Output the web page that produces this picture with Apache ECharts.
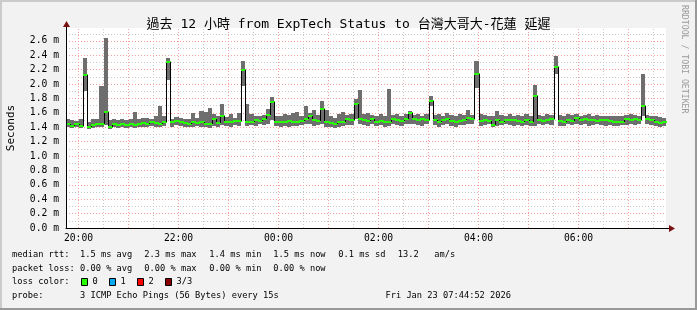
<!DOCTYPE html>
<html>
<head>
<meta charset="utf-8">
<script src="https://cdn.jsdelivr.net/npm/echarts@6/dist/echarts.min.js"></script>
<style>
html,body{margin:0;padding:0;background:#f2f2f2;}
#c{width:697px;height:310px;}
</style>
</head>
<body>
<div id="c"></div>
<script>
// ---- data (seconds, in milli-units) ----
const X_MIN = -0.25;          // hours relative to 20:00 (19:45)
const X_MAX = 11.75;          // 07:45
const STEP_H = 1 / 12;        // 5-minute RRD steps
const medianRtt = [
1.44,1.42,1.44,1.42,2.12,1.41,1.43,1.44,1.44,1.61,
1.41,1.45,1.43,1.45,1.43,1.44,1.43,1.45,1.46,1.45,
1.47,1.46,1.45,1.48,2.31,1.47,1.49,1.48,1.46,1.45,
1.47,1.46,1.48,1.45,1.44,1.52,1.46,1.55,1.47,1.48,
1.49,1.49,2.20,1.48,1.48,1.50,1.49,1.52,1.57,1.75,
1.47,1.48,1.47,1.49,1.47,1.48,1.49,1.51,1.56,1.50,
1.49,1.66,1.48,1.46,1.45,1.47,1.48,1.51,1.50,1.72,
1.52,1.50,1.49,1.51,1.48,1.49,1.48,1.48,1.51,1.50,
1.49,1.51,1.60,1.51,1.50,1.51,1.50,1.77,1.50,1.47,
1.50,1.51,1.49,1.47,1.49,1.50,1.53,1.51,2.14,1.49,
1.50,1.49,1.43,1.50,1.48,1.50,1.50,1.50,1.49,1.48,
1.50,1.48,1.83,1.50,1.49,1.50,1.51,2.24,1.49,1.48,
1.50,1.49,1.53,1.50,1.51,1.50,1.50,1.49,1.50,1.50,
1.49,1.48,1.48,1.48,1.51,1.50,1.52,1.50,1.69,1.52,
1.50,1.48,1.46,1.47
];
const minRtt = [
1.40,1.39,1.40,1.39,1.91,1.38,1.39,1.40,1.40,1.43,
1.38,1.40,1.39,1.40,1.39,1.40,1.39,1.41,1.41,1.40,
1.42,1.40,1.41,1.42,2.06,1.41,1.43,1.42,1.41,1.40,
1.41,1.42,1.41,1.40,1.39,1.42,1.41,1.43,1.42,1.41,
1.43,1.42,1.97,1.42,1.43,1.42,1.44,1.43,1.44,1.50,
1.42,1.41,1.42,1.41,1.42,1.42,1.43,1.44,1.45,1.42,
1.43,1.45,1.41,1.40,1.39,1.41,1.42,1.43,1.43,1.52,
1.44,1.43,1.42,1.44,1.42,1.43,1.41,1.42,1.44,1.43,
1.42,1.44,1.45,1.44,1.43,1.42,1.44,1.70,1.43,1.41,
1.43,1.44,1.42,1.40,1.43,1.43,1.44,1.44,1.95,1.42,
1.43,1.44,1.40,1.42,1.43,1.44,1.43,1.42,1.43,1.42,
1.43,1.42,1.42,1.44,1.43,1.44,1.43,2.14,1.42,1.42,
1.44,1.43,1.45,1.43,1.44,1.42,1.43,1.44,1.43,1.42,
1.43,1.42,1.42,1.43,1.43,1.44,1.43,1.44,1.55,1.45,
1.43,1.42,1.41,1.42
];
const maxRtt = [
1.52,1.50,1.49,1.51,2.36,1.47,1.52,1.51,1.97,2.64,
1.50,1.52,1.50,1.51,1.50,1.52,1.61,1.51,1.53,1.53,
1.51,1.56,1.69,1.55,2.36,1.52,1.54,1.53,1.52,1.51,
1.60,1.53,1.62,1.61,1.67,1.58,1.55,1.72,1.54,1.58,
1.53,1.60,2.32,1.72,1.58,1.55,1.56,1.57,1.66,1.82,
1.55,1.56,1.58,1.57,1.60,1.61,1.56,1.69,1.60,1.64,
1.57,1.77,1.64,1.55,1.53,1.58,1.61,1.57,1.59,1.80,
1.92,1.58,1.60,1.57,1.55,1.58,1.56,1.93,1.57,1.59,
1.56,1.58,1.63,1.57,1.59,1.56,1.58,1.84,1.57,1.59,
1.56,1.60,1.57,1.56,1.58,1.57,1.64,1.57,2.32,1.58,
1.57,1.56,1.56,1.63,1.57,1.56,1.58,1.55,1.57,1.56,
1.59,1.56,1.99,1.57,1.56,1.58,1.57,2.39,1.57,1.56,
1.58,1.57,1.58,1.56,1.57,1.58,1.56,1.57,1.55,1.56,
1.55,1.56,1.55,1.56,1.57,1.58,1.57,1.56,2.14,1.57,
1.56,1.55,1.54,1.53
];
const xLabelHours = [0, 2, 4, 6, 8, 10];
const yLabelValues = [0, 0.2, 0.4, 0.6, 0.8, 1.0, 1.2, 1.4, 1.6, 1.8, 2.0, 2.2, 2.4, 2.6];
const titleText = '過去 12 小時 from ExpTech Status to 台灣大哥大-花蓮 延遲';
const legendRow1 = ['median rtt:', '1.5 ms avg', '2.3 ms max', '1.4 ms min', '1.5 ms now', '0.1 ms sd', '13.2', 'am/s'];
const legendRow2 = ['packet loss:', '0.00 % avg', '0.00 % max', '0.00 % min', '0.00 % now'];
const lossLabels = ['0', '1', '2', '3/3'];
const lossColors = ['#26ff00', '#00a8f0', '#ff0000', '#8a0000'];
const probeText = ['probe:', '3 ICMP Echo Pings (56 Bytes) every 15s', 'Fri Jan 23 07:44:52 2026'];

// ---- build ----
const Y_MAX = 2.78;
const MONO = '"DejaVu Sans Mono", "Noto Sans CJK TC", monospace';
const rows = medianRtt.map((m, i) => [
  X_MIN + i * STEP_H, X_MIN + (i + 1) * STEP_H, minRtt[i], maxRtt[i], m,
  i > 0 ? medianRtt[i - 1] : m
]);

const minorX = [], majorX = [], minorY = [], majorY = [];
for (let h = -0.5; h <= X_MAX; h += 0.5) {
  if (h < X_MIN) continue;
  if (Number.isInteger(h)) majorX.push({ xAxis: h }); else minorX.push({ xAxis: h });
}
for (let k = 1; k * 0.1 < Y_MAX; k++) {
  const v = +(k * 0.1).toFixed(1);
  if (k % 2 === 0) majorY.push({ yAxis: v }); else minorY.push({ yAxis: v });
}

const chart = echarts.init(document.getElementById('c'), null, { renderer: 'canvas' });

function pad2(n) { return (n < 10 ? '0' : '') + n; }

const option = {
  animation: false,
  backgroundColor: '#f2f2f2',
  title: {
    text: titleText, left: 'center', top: 13,
    textStyle: { fontFamily: MONO, fontSize: 13, fontWeight: 'normal', color: '#000' }
  },
  grid: {
    left: 66, right: 31, top: 28, bottom: 82, show: true,
    outerBoundsMode: 'none', containLabel: false,
    backgroundColor: '#ffffff', borderWidth: 0
  },
  xAxis: {
    type: 'value', min: X_MIN, max: X_MAX, z: 6,
    axisLine: { show: true, onZero: false, lineStyle: { color: '#000', width: 1 } },
    axisTick: { show: false },
    splitLine: { show: false },
    axisLabel: {
      customValues: xLabelHours, margin: 6,
      fontFamily: MONO, fontSize: 9.7, color: '#000',
      formatter: v => pad2((20 + Math.round(v)) % 24) + ':00'
    }
  },
  yAxis: {
    type: 'value', min: 0, max: Y_MAX, z: 6,
    name: 'Seconds', nameLocation: 'middle', nameGap: 49, nameRotate: 90,
    nameTextStyle: { fontFamily: MONO, fontSize: 11, color: '#000' },
    axisLine: { show: true, onZero: false, lineStyle: { color: '#000', width: 1 } },
    axisTick: { show: false },
    splitLine: { show: false },
    axisLabel: {
      customValues: yLabelValues, margin: 7,
      fontFamily: MONO, fontSize: 9.7, color: '#000',
      formatter: v => v.toFixed(1) + ' m'
    }
  },
  series: [
    {
      type: 'line', data: [], z: 1, silent: true,
      markLine: {
        z: 1, zlevel: 0,
        silent: true, symbol: 'none', label: { show: false },
        lineStyle: { color: '#c8c8c8', width: 1, type: [1, 2] },
        emphasis: { disabled: true },
        data: minorX.concat(minorY)
      }
    },
    {
      type: 'line', data: [], z: 1, silent: true,
      markLine: {
        z: 1, zlevel: 0,
        silent: true, symbol: 'none', label: { show: false },
        lineStyle: { color: '#f4a0a0', width: 1, type: [1, 2] },
        emphasis: { disabled: true },
        data: majorX.concat(majorY)
      }
    },
    {
      type: 'custom', z: 3, silent: true,
      encode: { x: [0, 1], y: [2, 3] },
      data: rows,
      renderItem: (params, api) => {
        const a = api.coord([api.value(0), api.value(3)]);
        const b = api.coord([api.value(1), api.value(2)]);
        const x0 = Math.round(a[0]), x1 = Math.round(b[0]);
        const y0 = Math.round(a[1]), y1 = Math.round(b[1]);
        return { type: 'rect', shape: { x: x0, y: y0, width: x1 - x0, height: Math.max(1, y1 - y0) },
                 style: { fill: '#6e6e6e' } };
      }
    },
    {
      type: 'custom', z: 4, silent: true,
      encode: { x: [0, 1], y: [4, 5] },
      data: rows,
      renderItem: (params, api) => {
        const a = api.coord([api.value(0), api.value(4)]);
        const b = api.coord([api.value(1), api.value(4)]);
        const p = api.coord([api.value(0), api.value(5)]);
        const x0 = Math.round(a[0]), x1 = Math.round(b[0]);
        const ym = Math.round(a[1]), yp = Math.round(p[1]);
        return {
          type: 'group',
          children: [
            { type: 'line', shape: { x1: x0 + 0.5, y1: yp, x2: x0 + 0.5, y2: ym },
              style: { stroke: '#000', lineWidth: 1 } },
            { type: 'rect', shape: { x: x0, y: ym - 1, width: x1 - x0 + 1, height: 2 },
              style: { fill: '#26ff00' } }
          ]
        };
      }
    }
  ]
};
chart.setOption(option);

// ---- decorations (arrows, legend, frame) ----
const o = chart.convertToPixel({ gridIndex: 0 }, [X_MAX, 0]);
const t = chart.convertToPixel({ gridIndex: 0 }, [X_MIN, Y_MAX]);
const ax = Math.round(o[0]), ay = Math.round(o[1]);
const lx = Math.round(t[0]), ty = Math.round(t[1]);
const ARROW = '#7a1010';
const txt = (s, x, y, extra) => ({
  type: 'text', x: x, y: y, silent: true,
  style: Object.assign({ text: s, fill: '#000', font: '8.7px ' + MONO, textVerticalAlign: 'middle' }, extra || {})
});

const g = [
  { type: 'rect', shape: { x: 0, y: 0, width: 697, height: 2 }, style: { fill: '#cbcbcb' }, silent: true },
  { type: 'rect', shape: { x: 0, y: 0, width: 2, height: 310 }, style: { fill: '#cbcbcb' }, silent: true },
  { type: 'rect', shape: { x: 695, y: 0, width: 2, height: 310 }, style: { fill: '#999999' }, silent: true },
  { type: 'rect', shape: { x: 0, y: 308, width: 697, height: 2 }, style: { fill: '#999999' }, silent: true },
  { type: 'line', shape: { x1: ax, y1: ay + 0.5, x2: ax + 4, y2: ay + 0.5 }, style: { stroke: '#000', lineWidth: 1 }, silent: true },
  { type: 'polygon', shape: { points: [[ax + 3, ay - 3], [ax + 9, ay + 0.5], [ax + 3, ay + 4]] }, style: { fill: ARROW }, silent: true },
  { type: 'line', shape: { x1: lx + 0.5, y1: ty, x2: lx + 0.5, y2: ty - 3 }, style: { stroke: '#000', lineWidth: 1 }, silent: true },
  { type: 'polygon', shape: { points: [[lx - 3, ty - 1], [lx + 0.5, ty - 7], [lx + 4, ty - 1]] }, style: { fill: ARROW }, silent: true },
  { type: 'text', x: 684, y: 5, rotation: -Math.PI / 2, silent: true,
    style: { text: 'RRDTOOL / TOBI OETIKER', fill: '#9a9a9a', font: '8.2px ' + MONO, textVerticalAlign: 'middle' } }
];
const r1x = [12, 80, 144.3, 209.3, 273.3, 338.3, 397.7, 434.3];
legendRow1.forEach((s, i) => g.push(txt(s, r1x[i], 255)));
const r2x = [12, 80, 144.3, 209.3, 273.3];
legendRow2.forEach((s, i) => g.push(txt(s, r2x[i], 268.5)));
g.push(txt('loss color:', 12, 282));
const boxX = [81.5, 109.5, 137.5, 165.5];
lossLabels.forEach((s, i) => {
  g.push({ type: 'rect', silent: true, shape: { x: boxX[i], y: 278.5, width: 6, height: 7 },
           style: { fill: lossColors[i], stroke: '#000', lineWidth: 1 } });
  g.push(txt(s, boxX[i] + 11, 282));
});
g.push(txt(probeText[0], 12, 296));
g.push(txt(probeText[1], 80, 296));
g.push(txt(probeText[2], 511, 296, { textAlign: 'right' }));

chart.setOption({ graphic: { elements: g } });
</script>
</body>
</html>
